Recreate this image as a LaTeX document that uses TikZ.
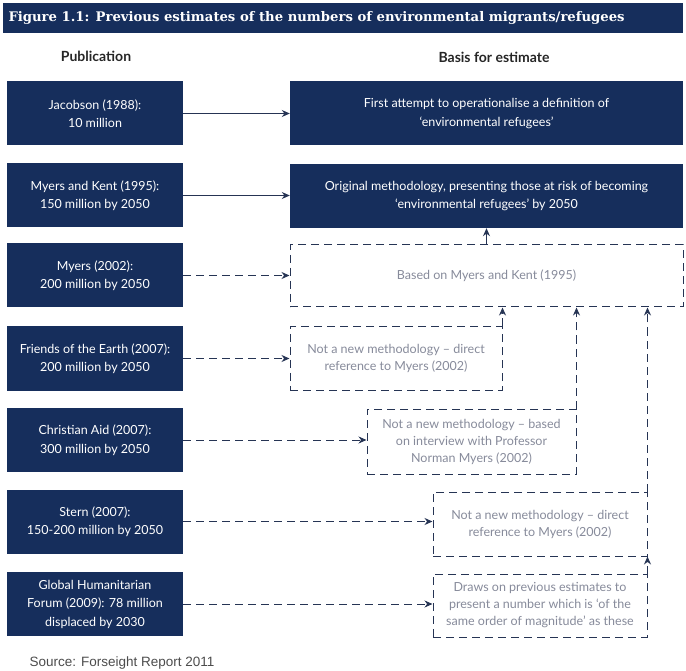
\documentclass[tikz,border=0pt]{standalone}
\usepackage{fontspec}
\setmainfont{Lato}
\newfontfamily\titlefont{DejaVu Serif}
\newfontfamily\srcfont{Liberation Sans}
\usepackage{xcolor}
\usetikzlibrary{arrows.meta, positioning, calc}
\definecolor{navy}{RGB}{22,46,92}
\definecolor{dashline}{RGB}{38,52,84}
\definecolor{greytext}{RGB}{135,139,155}

\begin{document}
\begin{tikzpicture}[
    x=1pt,y=-1pt,
    pub/.style={draw=none,fill=navy,text=white,minimum width=176pt,minimum height=64pt,
      align=center,font=\fontsize{12.5}{18.5}\selectfont,inner sep=2pt},
    basis/.style={draw=none,fill=navy,text=white,minimum width=393pt,minimum height=64pt,
      align=center,font=\fontsize{12.5}{18.5}\selectfont,inner sep=2pt},
    derived/.style={draw=dashline,dash pattern=on 8pt off 5pt,line width=1pt,fill=white,
      text=greytext,align=center,font=\fontsize{12.5}{17}\selectfont,inner sep=2pt},
    arrow/.style={-{Stealth[length=8pt,width=7pt]},line width=1pt,dashline},
    darrow/.style={arrow,dash pattern=on 8pt off 5pt},
  ]
  \useasboundingbox (0,0) rectangle (686,671);

  % Title bar and column headings
  \node[fill=navy,minimum width=680pt,minimum height=30pt,anchor=north west,inner sep=0pt]
    (titlebar) at (3,3) {};
  \node[anchor=west,text=white,font=\titlefont\bfseries\fontsize{13.2}{15}\selectfont]
    (title) at (5,18) {Figure 1.1: Previous estimates of the numbers of environmental migrants/refugees};
  \node[font=\bfseries\fontsize{14}{16}\selectfont,text=black!85] (hpub) at (96,56) {Publication};
  \node[font=\bfseries\fontsize{14}{16}\selectfont,text=black!85] (hbasis) at (494,57) {Basis for estimate};

  % Publications
  \node[pub] (jac)   at (95,113.5) {Jacobson (1988):\\10 million};
  \node[pub] (mk)    at (95,195.5) {Myers and Kent (1995):\\150 million by 2050};
  \node[pub] (my)    at (95,275.5) {Myers (2002):\\200 million by 2050};
  \node[pub] (foe)   at (95,358.5) {Friends of the Earth (2007):\\200 million by 2050};
  \node[pub] (ca)    at (95,440)   {Christian Aid (2007):\\300 million by 2050};
  \node[pub] (stern) at (95,521.5) {Stern (2007):\\150-200 million by 2050};
  \node[pub] (ghf)   at (95,604)   {Global Humanitarian\\Forum (2009): 78 million\\displaced by 2030};

  % Bases for estimate
  \node[basis] (bjac) at (486.5,113.5) {First attempt to operationalise a definition of\\`environmental refugees'};
  \node[basis] (bmk)  at (486.5,196)   {Original methodology, presenting those at risk of becoming\\`environmental refugees' by 2050};
  \node[derived,minimum width=393pt,minimum height=62pt] (bmy) at (486.5,276) {Based on Myers and Kent (1995)};
  \node[derived,minimum width=212pt,minimum height=63pt] (bfoe) at (396,358.5)
    {Not a new methodology -- direct\\reference to Myers (2002)};
  \node[derived,minimum width=209pt,minimum height=65pt] (bca) at (471.5,441.5)
    {Not a new methodology -- based\\on interview with Professor\\Norman Myers (2002)};
  \node[derived,minimum width=214pt,minimum height=64pt] (bstern) at (540,524)
    {Not a new methodology -- direct\\reference to Myers (2002)};
  \node[derived,minimum width=214pt,minimum height=63pt] (bghf) at (540,605.5)
    {Draws on previous estimates to\\present a number which is `of the\\same order of magnitude' as these};

  % Publication -> basis
  \draw[arrow] (jac) -- (bjac);
  \draw[arrow] (mk.east) -- (mk.east -| bmk.west);
  \draw[darrow] (my.east) -- (my.east -| bmy.west);
  \draw[darrow] (foe.east) -- (foe.east -| bfoe.west);
  \draw[darrow] (ca.east) -- (ca.east -| bca.west);
  \draw[darrow] (stern.east) -- (stern.east -| bstern.west);
  \draw[darrow] (ghf.east) -- (ghf.east -| bghf.west);

  % Links between bases
  \draw[arrow] (bmy.north) -- (bmk.south);
  \draw[darrow] (bfoe.north east) -- (bfoe.north east |- bmy.south);
  \draw[darrow] (bca.north east) -- (bca.north east |- bmy.south);
  \draw[darrow] (bstern.north east) -- (bstern.north east |- bmy.south);
  \draw[darrow] (bghf.north east) -- (bstern.south east);

  % Source
  \node[anchor=west,font=\srcfont\fontsize{13.5}{15}\selectfont,text=black!70] (src) at (26,663)
    {Source: Forseight Report 2011};

\end{tikzpicture}
\end{document}
